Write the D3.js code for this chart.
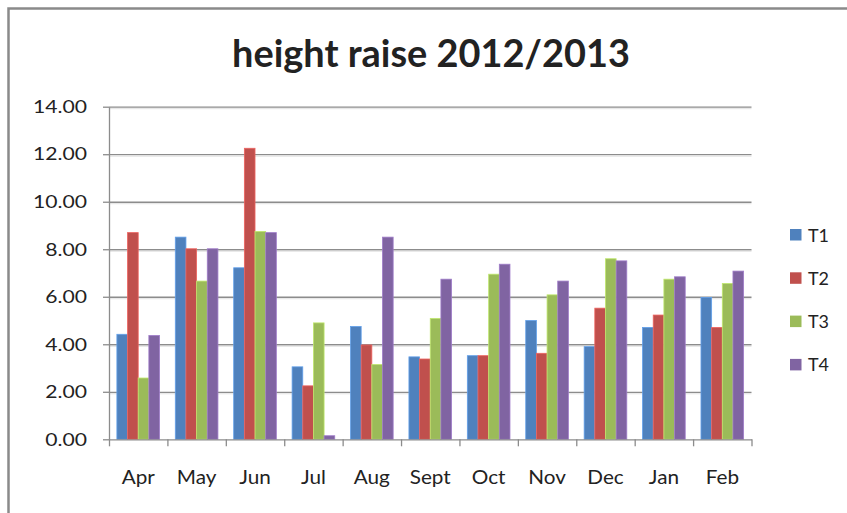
<!DOCTYPE html>
<html>
<head>
<meta charset="utf-8">
<script src="https://cdn.jsdelivr.net/npm/d3@7"></script>
<style>
  html, body { margin: 0; padding: 0; background: #fff; }
  svg { display: block; }
  text { font-family: Lato, "Open Sans", sans-serif; fill: #222; }
</style>
</head>
<body>
<svg id="chart" width="847" height="513"></svg>
<script>
// Monthly height raise per treatment, April 2012 to February 2013
const months = ["Apr", "May", "Jun", "Jul", "Aug", "Sept", "Oct", "Nov", "Dec", "Jan", "Feb"];
const seriesNames = ["T1", "T2", "T3", "T4"];
const t1 = [4.42, 8.51, 7.22, 3.05, 4.75, 3.47, 3.52, 5.00, 3.90, 4.71, 5.97];
const t2 = [8.70, 8.02, 12.25, 2.25, 3.97, 3.38, 3.52, 3.62, 5.52, 5.23, 4.71];
const t3 = [2.58, 6.66, 8.75, 4.90, 3.15, 5.09, 6.95, 6.08, 7.60, 6.74, 6.56];
const t4 = [4.37, 8.02, 8.70, 0.15, 8.51, 6.74, 7.37, 6.66, 7.51, 6.84, 7.08];
const yTicks = [0, 2, 4, 6, 8, 10, 12, 14];
const colors = ["#4F81BD", "#C0504D", "#9BBB59", "#8064A2"];

const seriesValues = [t1, t2, t3, t4];
const rows = months.map((m, i) => ({ month: m, values: seriesValues.map(s => s[i]) }));

const svg = d3.select("#chart");

// widen a set of labels so that a sample label spans the given width
function widen(selection, sampleText, targetWidth) {
  const nodes = selection.nodes();
  const sample = nodes.find(n => n.textContent === sampleText) || nodes[0];
  const k = targetWidth / sample.getComputedTextLength();
  nodes.forEach(n => {
    const w = n.getComputedTextLength();
    n.setAttribute("textLength", (w * k).toFixed(2));
    n.setAttribute("lengthAdjust", "spacingAndGlyphs");
  });
}

// outer chart frame
svg.append("path")
  .attr("d", "M8.5,513 V8.5 H847")
  .attr("fill", "none")
  .attr("stroke", "#8a8a8a")
  .attr("stroke-width", 2.5);

const plot = { left: 109, right: 751.5, top: 106.7, bottom: 439.3 };

const x = d3.scaleBand()
  .domain(months)
  .range([plot.left, plot.right])
  .paddingInner(0.27)
  .paddingOuter(0.135);

const xSeries = d3.scaleBand()
  .domain(seriesNames)
  .range([0, x.bandwidth()]);

const y = d3.scaleLinear()
  .domain([0, 14])
  .range([plot.bottom, plot.top]);

const color = d3.scaleOrdinal().domain(seriesNames).range(colors);

// horizontal gridlines
const grid = svg.append("g")
  .attr("transform", `translate(${plot.left},0)`)
  .call(d3.axisLeft(y).tickValues(yTicks.slice(1)).tickSize(-(plot.right - plot.left)).tickFormat(""));
grid.select(".domain").remove();
grid.selectAll(".tick line")
  .attr("stroke", "#8c8c8c")
  .attr("stroke-width", 1.3);
grid.selectAll(".tick").append("line")
  .attr("x2", plot.right - plot.left)
  .attr("y1", 1.5).attr("y2", 1.5)
  .attr("stroke", "#e2e2e2")
  .attr("stroke-width", 1);

// bars
const groups = svg.append("g")
  .selectAll("g")
  .data(rows)
  .join("g")
  .attr("transform", d => `translate(${x(d.month)},0)`);

groups.selectAll("rect")
  .data(d => d.values.map((v, k) => ({ key: seriesNames[k], value: v })))
  .join("rect")
  .attr("x", d => xSeries(d.key))
  .attr("y", d => y(d.value))
  .attr("width", xSeries.bandwidth())
  .attr("height", d => y(0) - y(d.value))
  .attr("fill", d => color(d.key))
  .attr("stroke", d => d3.color(color(d.key)).brighter(0.6))
  .attr("stroke-width", 0.8);

// y axis
const yAxis = svg.append("g")
  .attr("transform", `translate(${plot.left},0)`)
  .call(d3.axisLeft(y).tickValues(yTicks).tickSize(6).tickSizeOuter(0).tickPadding(16).tickFormat(d3.format(".2f")));
yAxis.select(".domain").attr("stroke", "#8c8c8c").attr("stroke-width", 1.3);
yAxis.selectAll(".tick line").attr("stroke", "#8c8c8c").attr("stroke-width", 1.3);
yAxis.selectAll("text")
  .style("font-size", "18px")
  .style("font-family", "Lato, sans-serif")
  .attr("fill", "#222");
widen(yAxis.selectAll("text"), "14.00", 54);

// x axis: tick marks between categories
const xEdges = d3.scaleLinear().domain([0, months.length]).range([plot.left, plot.right]);
const xTickAxis = svg.append("g")
  .attr("transform", `translate(0,${plot.bottom})`)
  .call(d3.axisBottom(xEdges).tickValues(d3.range(months.length + 1)).tickSize(7).tickSizeOuter(0).tickFormat(""));
xTickAxis.select(".domain").attr("stroke", "#8c8c8c").attr("stroke-width", 1.3);
xTickAxis.selectAll(".tick line").attr("stroke", "#8c8c8c").attr("stroke-width", 1.3);

// x axis: category labels
const xAxis = svg.append("g")
  .attr("transform", `translate(0,${plot.bottom})`)
  .call(d3.axisBottom(x).tickSize(0).tickPadding(31));
xAxis.select(".domain").remove();
xAxis.selectAll("text")
  .style("font-size", "19px")
  .style("font-family", "Lato, sans-serif")
  .attr("fill", "#222");
widen(xAxis.selectAll("text"), "Sept", 41);

// title
const title = svg.append("text")
  .attr("x", 431)
  .attr("y", 66.5)
  .attr("text-anchor", "middle")
  .style("font-family", "Lato, sans-serif")
  .style("font-weight", "bold")
  .style("font-size", "37px")
  .attr("fill", "#000")
  .text("height raise 2012/2013");
const tw = title.node().getComputedTextLength();
title.style("font-size", (37 * 398 / tw).toFixed(2) + "px");

// legend
const legend = svg.append("g")
  .selectAll("g")
  .data(seriesNames)
  .join("g")
  .attr("transform", (d, i) => `translate(790,${229 + i * 43.3})`);
legend.append("rect")
  .attr("width", 11.5)
  .attr("height", 11.5)
  .attr("fill", d => color(d));
legend.append("text")
  .attr("x", 18)
  .attr("y", 12.5)
  .style("font-size", "18px")
  .attr("fill", "#222")
  .text(d => d);
widen(legend.selectAll("text"), "T1", 21);
</script>
</body>
</html>
